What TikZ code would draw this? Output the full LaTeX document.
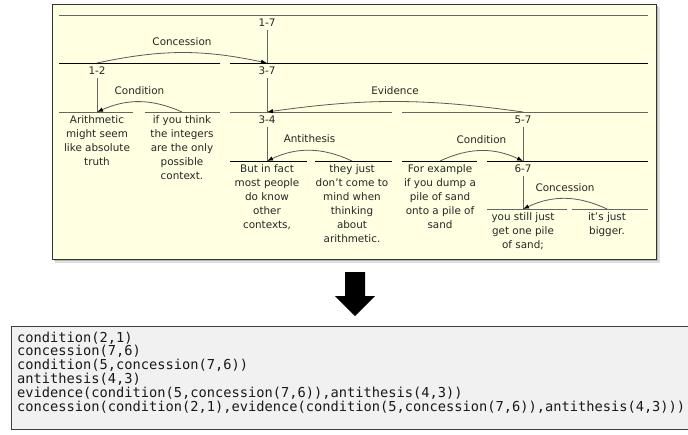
\documentclass[tikz,border=0pt]{standalone}
\usepackage{fontspec}
\setsansfont{DejaVu Sans}
\setmonofont{DejaVu Sans Mono}
\usetikzlibrary{arrows.meta}

\definecolor{panelfill}{RGB}{255,255,226}
\definecolor{codefill}{RGB}{241,241,241}

\begin{document}
\begin{tikzpicture}[x=1pt,y=-1pt,
    span node/.style={anchor=north,inner xsep=2pt,inner ysep=3.5pt,text=black!85,font=\sffamily\fontsize{10.4}{14}\selectfont},
    unit node/.style={span node,align=center},
    rel/.style={draw=black!65,line width=0.8pt,-{Latex[length=6pt,width=4.5pt,color=black]}},
    rel label/.style={above=5pt,inner sep=2pt,text=black!85,font=\sffamily\fontsize{10.4}{14}\selectfont},
    vline/.style={draw=black!60,line width=1pt},
    seg/.style={line width=1pt}]
    \useasboundingbox (0,0) rectangle (688,434);

    % panel with the tree
    \fill[gray!25] (55,7) rectangle (660,263);
    \fill[gray!55] (54,6) rectangle (658,261);
    \draw[fill=panelfill,draw=black!80] (52,4) rectangle (656,259);

    % spans
    \draw[seg,black!60] (59,15) -- (648,15);
    \draw[seg,black] (59,63) -- (220,63) (230,63) -- (648,63);
    \draw[seg,black!60] (59,112) -- (133,112) (145,112) -- (220,112)
        (230,112) -- (392,112) (402,112) -- (648,112);
    \draw[seg,black] (230,161) -- (307,161) (315,161) -- (392,161)
        (402,161) -- (477,161) (487,161) -- (648,161);
    \draw[seg,black!60] (487,209) -- (567,209) (572,209) -- (648,209);

    \node[span node] at (267,15) (s17) {1-7};
    \node[span node] at (97,63) (s12) {1-2};
    \node[span node] at (267,63) (s37) {3-7};
    \node[span node] at (267,112) (s34) {3-4};
    \node[span node] at (523,112) (s57) {5-7};
    \node[span node] at (523,161) (s67) {6-7};

    \node[unit node] at (97,112) (u1) {Arithmetic\\might seem\\like absolute\\truth};
    \node[unit node] at (182,112) (u2) {if you think\\the integers\\are the only\\possible\\context.};
    \node[unit node] at (267,161) (u3) {But in fact\\most people\\do know\\other\\contexts,};
    \node[unit node] at (352,161) (u4) {they just\\don’t come to\\mind when\\thinking\\about\\arithmetic.};
    \node[unit node] at (440,161) (u5) {For example\\if you dump a\\pile of sand\\onto a pile of\\sand};
    \node[unit node] at (523,209) (u6) {you still just\\get one pile\\of sand;};
    \node[unit node] at (607,209) (u7) {it’s just\\bigger.};

    \path
        (s17) edge[vline] (s37)
        (s12) edge[vline] (u1)
        (s37) edge[vline] (s34)
        (s34) edge[vline] (u3)
        (s57) edge[vline] (s67)
        (s67) edge[vline] (u6);

    \path
        (s12.north) edge[rel,bend left=12] node[rel label] {Concession} (s37.north)
        (u2.north) edge[rel,bend right=24] node[rel label] {Condition} (u1.north)
        (s57.north) edge[rel,bend right=8] node[rel label] {Evidence} (s34.north)
        (u4.north) edge[rel,bend right=25] node[rel label] {Antithesis} (u3.north)
        (u5.north) edge[rel,bend left=25] node[rel label] {Condition} (s67.north)
        (u7.north) edge[rel,bend right=25] node[rel label] {Concession} (u6.north);

    % arrow down to the terms
    \fill[black] (345,272) -- (365,272) -- (365,296) -- (375,296) -- (355,316)
        -- (335,296) -- (345,296) -- cycle;

    % the terms
    \draw[fill=codefill,draw=black!75] (11,326) rectangle (692,429);
    \node[anchor=north west,align=left,inner sep=1pt,text=black!90,
        font=\ttfamily\fontsize{13.7}{13.8}\selectfont] at (16,330.5) (terms)
        {condition(2,1)\\
         concession(7,6)\\
         condition(5,concession(7,6))\\
         antithesis(4,3)\\
         evidence(condition(5,concession(7,6)),antithesis(4,3))\\
         concession(condition(2,1),evidence(condition(5,concession(7,6)),antithesis(4,3)))};
\end{tikzpicture}
\end{document}
